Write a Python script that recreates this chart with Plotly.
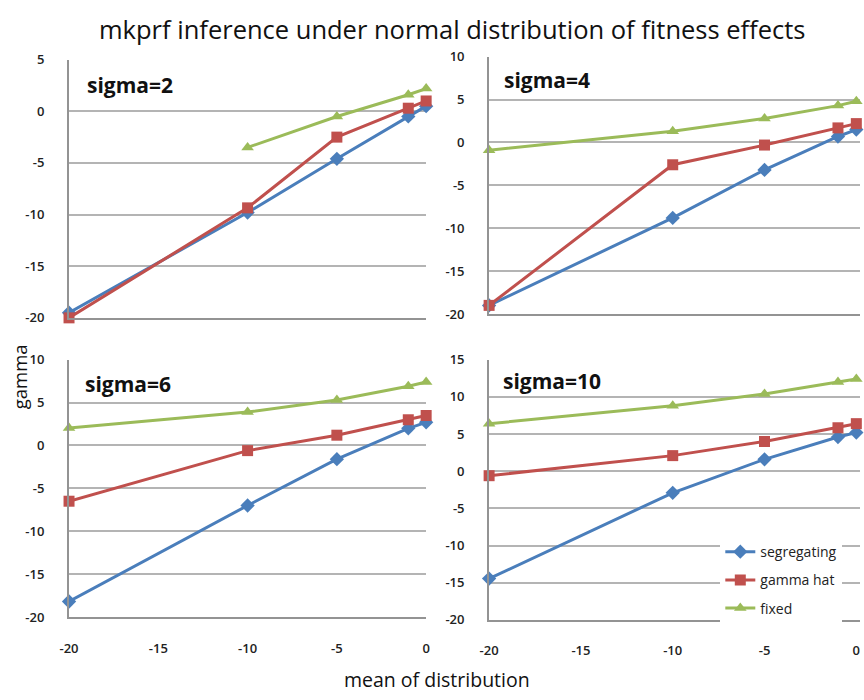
import plotly.graph_objects as go

x_vals = [-20, -10, -5, -1, 0]

sig2_seg = [-19.5, -9.8, -4.6, -0.5, 0.5]
sig2_hat = [-20.0, -9.35, -2.5, 0.3, 1.0]
sig2_fix = [None, -3.5, -0.5, 1.6, 2.2]

sig4_seg = [-19.0, -8.8, -3.2, 0.7, 1.5]
sig4_hat = [-19.0, -2.6, -0.3, 1.7, 2.2]
sig4_fix = [-0.9, 1.3, 2.8, 4.3, 4.8]

sig6_seg = [-18.2, -7.0, -1.6, 2.0, 2.7]
sig6_hat = [-6.5, -0.6, 1.2, 3.0, 3.5]
sig6_fix = [2.05, 3.9, 5.3, 6.9, 7.4]

sig10_seg = [-14.45, -2.9, 1.6, 4.6, 5.2]
sig10_hat = [-0.6, 2.1, 4.0, 5.85, 6.4]
sig10_fix = [6.4, 8.8, 10.4, 12.0, 12.4]

panel_titles = ["sigma=2", "sigma=4", "sigma=6", "sigma=10"]
series_names = ["segregating", "gamma hat", "fixed"]
y_ranges = [[-20, 5], [-20, 10], [-20, 10], [-20, 15]]
x_ticks = [-20, -15, -10, -5, 0]

colors = ["#4A7EBB", "#C0504D", "#9BBB59"]
symbols = ["diamond", "square", "triangle-up"]
msizes = [11, 11, 11]

W, H = 864, 700
# pixel boxes (left, right, top, bottom)
boxes = [(60, 423, 52, 317), (487, 864, 49, 313), (60, 423, 360, 624), (487, 864, 360, 627)]
x_ranges = [[-20, 0], [-20, 0.2], [-20, 0], [-20, 0.2]]

data = [
    [sig2_seg, sig2_hat, sig2_fix],
    [sig4_seg, sig4_hat, sig4_fix],
    [sig6_seg, sig6_hat, sig6_fix],
    [sig10_seg, sig10_hat, sig10_fix],
]

fig = go.Figure()
FONT = "Open Sans"
grid = "#B4B4B4"
axcol = "#939393"
tickfont = dict(family=FONT, size=13, color="#222222", weight=600)

layout = dict(
    width=W, height=H,
    margin=dict(l=0, r=0, t=0, b=0),
    paper_bgcolor="white", plot_bgcolor="white",
    showlegend=True,
    legend=dict(x=722 / W, y=1 - 541 / H, xanchor="left", yanchor="top",
                bgcolor="white", font=dict(family=FONT, size=14, color="#222222"),
                traceorder="grouped", tracegroupgap=7, itemwidth=30),
)

annotations = []
for i in range(4):
    l, r, t, b = boxes[i]
    xa = "xaxis" if i == 0 else f"xaxis{i+1}"
    ya = "yaxis" if i == 0 else f"yaxis{i+1}"
    xref = "x" if i == 0 else f"x{i+1}"
    yref = "y" if i == 0 else f"y{i+1}"
    lo, hi = y_ranges[i]
    yt = list(range(lo, hi + 1, 5))
    layout[xa] = dict(
        domain=[l / W, r / W], range=x_ranges[i], anchor=yref,
        tickmode="array", tickvals=x_ticks, ticktext=[str(v) for v in x_ticks],
        showticklabels=(i >= 2), tickfont=tickfont, ticklabelstandoff=18,
        showgrid=False, zeroline=False, showline=True, linecolor=axcol, linewidth=2,
        ticks="", fixedrange=True,
    )
    layout[ya] = dict(
        domain=[1 - b / H, 1 - t / H], range=y_ranges[i], anchor=xref,
        tickmode="array", tickvals=yt, ticktext=[str(v) for v in yt],
        tickfont=tickfont, ticklabelstandoff=20,
        showgrid=True, gridcolor=grid, gridwidth=2, zeroline=False,
        showline=True, linecolor=axcol, linewidth=2, ticks="",
    )
    for k in range(3):
        fig.add_trace(go.Scatter(
            x=x_vals, y=data[i][k], mode="lines+markers",
            name=series_names[k], legendgroup=series_names[k],
            showlegend=(i == 3), xaxis=xref, yaxis=yref,
            line=dict(color=colors[k], width=3),
            marker=dict(color=colors[k], symbol=symbols[k], size=msizes[k]),
            cliponaxis=False, connectgaps=False,
        ))

ann_pos = [(76, 78), (500, 73), (74, 385), (499, 382)]
for i, (ax, ay) in enumerate(ann_pos):
    annotations.append(dict(
        text=f"<b>{panel_titles[i]}</b>", x=ax / W, y=1 - ay / H, xref="paper", yref="paper",
        xanchor="left", yanchor="middle", showarrow=False,
        font=dict(family=FONT, size=21, color="#111111"),
    ))

annotations.append(dict(
    text="mkprf inference under normal distribution of fitness effects",
    x=450 / W, y=1 - 21 / H, xref="paper", yref="paper", xanchor="center", yanchor="middle",
    showarrow=False, font=dict(family=FONT, size=25.5, color="#111111"),
))
annotations.append(dict(
    text="mean of distribution", x=434 / W, y=1 - 688 / H, xref="paper", yref="paper",
    xanchor="center", yanchor="middle", showarrow=False,
    font=dict(family=FONT, size=19.5, color="#111111"),
))
annotations.append(dict(
    text="gamma", x=0, y=1 - 378 / H, xref="paper", yref="paper", textangle=-90,
    xanchor="center", yanchor="middle", showarrow=False, xshift=9,
    font=dict(family=FONT, size=18.5, color="#111111"),
))
layout["annotations"] = annotations
fig.update_layout(**layout)
fig.write_html("out.html")
